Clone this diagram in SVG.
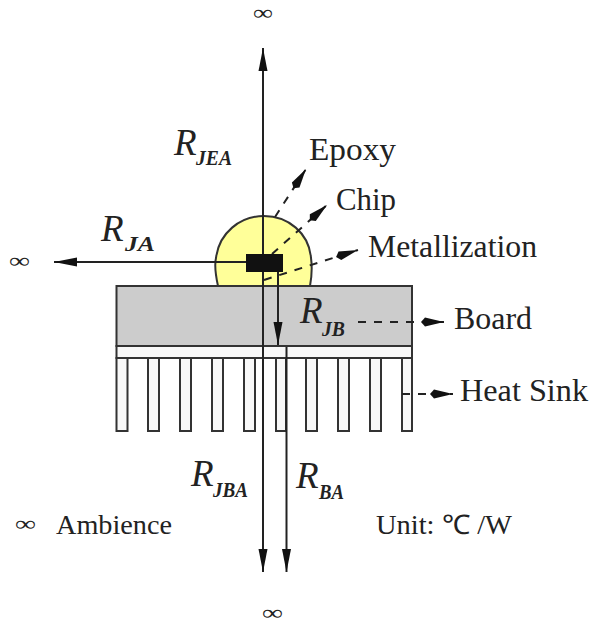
<svg xmlns="http://www.w3.org/2000/svg" width="592" height="624" viewBox="0 0 592 624">
<defs>
<marker id="ah" markerUnits="userSpaceOnUse" markerWidth="24" markerHeight="12" refX="23" refY="6" orient="auto"><path d="M0 1.500L23 6L0 10.500Z" fill="#111"/></marker>
<marker id="dh" markerUnits="userSpaceOnUse" markerWidth="24" markerHeight="12" refX="23" refY="6" orient="auto"><path d="M0 6L4 1.500L23 6L4 10.500Z" fill="#111"/></marker>
</defs>
<style>
text{font-family:"Liberation Serif","Times New Roman",serif;fill:#222}
.l{font-size:31px}.u{font-size:27px}.r{font-size:37px;font-style:italic}.s{font-size:21px;font-style:italic;font-weight:bold}.i{font-size:22px}
.w{fill:none;stroke:#222;stroke-width:2}
.d{fill:none;stroke:#222;stroke-width:2;stroke-dasharray:8 8}
.f{fill:#f8f8f8;stroke:#333;stroke-width:2}
</style>
<g id="epoxy-dome"><path d="M218 286C215 272 215 262 216 258C219 233 240 216 264 216C288 216 309 233 311 258C312 265 312 275 310 286Z" fill="#ffff99" stroke="#333" stroke-width="2"/></g>
<g id="board"><rect x="116.500" y="286" width="295.500" height="60" fill="#cccccc" stroke="#333" stroke-width="2"/></g>
<g id="heat-sink">
<rect class="f" x="116.500" y="346" width="295.500" height="12"/>
<rect class="f" x="116.500" y="358" width="11" height="73"/>
<rect class="f" x="148" y="358" width="11" height="73"/>
<rect class="f" x="180" y="358" width="11" height="73"/>
<rect class="f" x="212" y="358" width="11" height="73"/>
<rect class="f" x="244" y="358" width="11" height="73"/>
<rect class="f" x="276" y="358" width="10" height="73"/>
<rect class="f" x="306" y="358" width="11" height="73"/>
<rect class="f" x="338" y="358" width="11" height="73"/>
<rect class="f" x="370" y="358" width="11" height="73"/>
<rect class="f" x="402" y="358" width="10" height="73"/>
</g>
<g id="connectors">
<path class="w" d="M263 256V48" marker-end="url(#ah)"/>
<path class="w" d="M246 262H54" marker-end="url(#ah)"/>
<path class="w" d="M263 272V572" marker-end="url(#ah)"/>
<path class="w" d="M286.500 347V572" marker-end="url(#ah)"/>
<path class="w" d="M278 272V345" marker-end="url(#ah)"/>
<path class="d" d="M275 217L306 169" marker-end="url(#dh)"/>
<path class="d" d="M272 254L327 205" marker-end="url(#dh)"/>
<path class="d" d="M264 280L358 250" marker-end="url(#dh)"/>
<path class="d" d="M358 322H444" marker-end="url(#dh)"/>
<path class="d" d="M402 394H453" marker-end="url(#dh)"/>
</g>
<g id="labels">
<text class="i" x="253" y="20" textLength="20" lengthAdjust="spacingAndGlyphs">∞</text>
<text class="i" x="9" y="268" textLength="21" lengthAdjust="spacingAndGlyphs">∞</text>
<text class="i" x="262" y="620" textLength="21" lengthAdjust="spacingAndGlyphs">∞</text>
<text class="i" x="15" y="531" textLength="21" lengthAdjust="spacingAndGlyphs">∞</text>
<text class="r" x="174" y="155">R</text><text class="s" x="196" y="165" textLength="36" lengthAdjust="spacingAndGlyphs">JEA</text>
<text class="r" x="101" y="241">R</text><text class="s" x="125" y="251" textLength="30" lengthAdjust="spacingAndGlyphs">JA</text>
<text class="r" x="300" y="323">R</text><text class="s" x="322" y="336" textLength="23" lengthAdjust="spacingAndGlyphs">JB</text>
<text class="r" x="191" y="486">R</text><text class="s" x="213" y="497" textLength="35" lengthAdjust="spacingAndGlyphs">JBA</text>
<text class="r" x="296" y="488">R</text><text class="s" x="319" y="499" textLength="25" lengthAdjust="spacingAndGlyphs">BA</text>
<text class="l" x="309" y="160" textLength="87" lengthAdjust="spacingAndGlyphs">Epoxy</text>
<text class="l" x="336" y="210" textLength="60" lengthAdjust="spacingAndGlyphs">Chip</text>
<text class="l" x="368" y="257" textLength="169" lengthAdjust="spacingAndGlyphs">Metallization</text>
<text class="l" x="454" y="329" textLength="78" lengthAdjust="spacingAndGlyphs">Board</text>
<text class="l" x="460" y="401" textLength="128" lengthAdjust="spacingAndGlyphs">Heat Sink</text>
<text class="u" x="56" y="534" textLength="116" lengthAdjust="spacingAndGlyphs">Ambience</text>
<text class="u" x="376" y="534" textLength="136" lengthAdjust="spacingAndGlyphs">Unit: ℃ /W</text>
</g>
<g id="chip"><rect x="246" y="254" width="37" height="18" fill="#111"/></g>
</svg>
